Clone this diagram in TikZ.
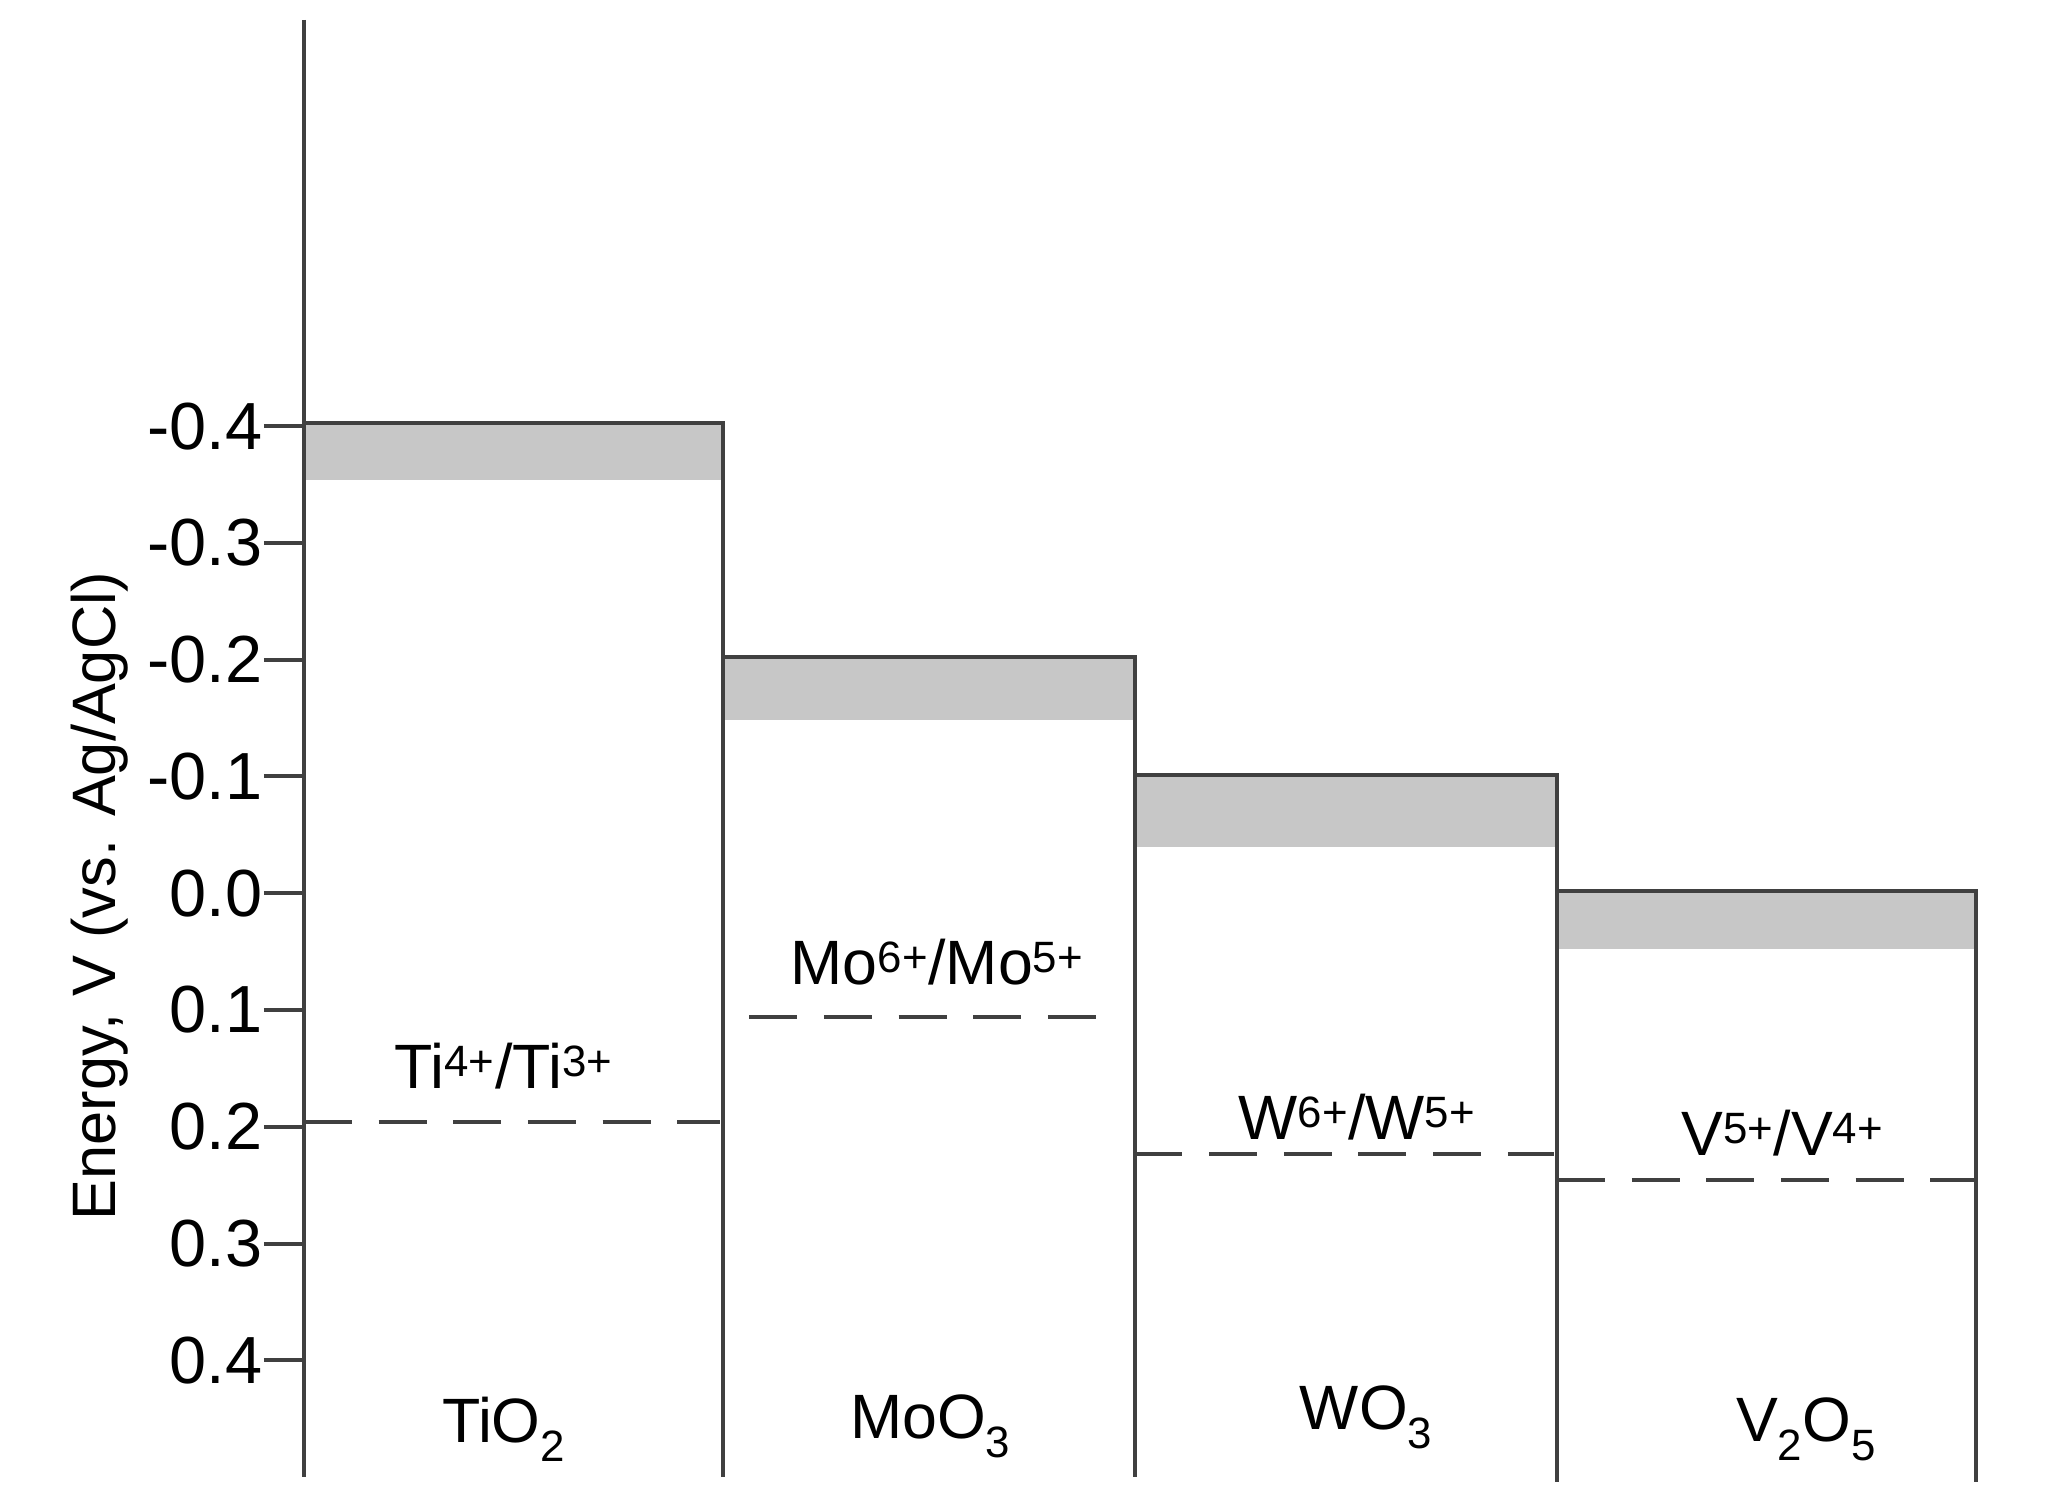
\documentclass[tikz,border=0pt]{standalone}
\usepackage{fontspec}
\setmainfont{Liberation Sans}
\begin{document}
\begin{tikzpicture}[x=1pt,y=-1pt,
  ln/.style={draw=black!75,line width=3pt},
  hb/.style={fill=black!22},
  dsh/.style={draw=black!75,line width=3pt,dash pattern=on 36pt off 20pt},
  tk/.style={anchor=east,font=\fontsize{50}{50}\selectfont},
  lb/.style={font=\fontsize{47}{47}\selectfont}]
\useasboundingbox (0,0) rectangle (1549,1121);
\fill[white] (0,0) rectangle (1549,1121);
% hatched bands
\fill[hb] (228,317) rectangle (542,360);
\fill[hb] (542,493) rectangle (851,540);
\fill[hb] (851,581) rectangle (1168,635);
\fill[hb] (1168,668) rectangle (1482,712);
% axis
\draw[ln] (228,15) -- (228,1108);
\foreach \v/\t in {-0.4/{-0.4},-0.3/{-0.3},-0.2/{-0.2},-0.1/{-0.1},0/{0.0},0.1/{0.1},0.2/{0.2},0.3/{0.3},0.4/{0.4}}{
  \pgfmathsetmacro\yy{670+\v*876}
  \draw[ln] (198,\yy) -- (228,\yy);
  \node[tk,inner sep=1pt] (t\t) at (198,\yy) {\t};
}
\node[rotate=90,font=\fontsize{46}{46}\selectfont] (ylab) at (75,672) {Energy, V (vs. Ag/AgCl)};
% boxes
\draw[ln] (228,317) -- (542,317) -- (542,1108);
\draw[ln] (542,493) -- (851,493) -- (851,1108);
\draw[ln] (851,581) -- (1168,581) -- (1168,1112);
\draw[ln] (1168,668) -- (1482,668) -- (1482,1112);
% dashed levels
\draw[dsh] (228,842) -- (540,842);
\draw[dsh] (562,763) -- (832,763);
\draw[dsh] (851,866) -- (1166,866);
\draw[dsh] (1168,885) -- (1482,885);
% labels
\node[lb] (ti) at (378,800) {Ti\textsuperscript{4+}/Ti\textsuperscript{3+}};
\node[lb] (mo) at (703,722) {Mo\textsuperscript{6+}/Mo\textsuperscript{5+}};
\node[lb] (w) at (1018,838) {W\textsuperscript{6+}/W\textsuperscript{5+}};
\node[lb] (v) at (1337,850) {V\textsuperscript{5+}/V\textsuperscript{4+}};
\node[lb] (a) at (378,1072) {TiO$_{\mathrm{2}}$};
\node[lb] (b) at (698,1070) {MoO$_{\mathrm{3}}$};
\node[lb] (c) at (1025,1063) {WO$_{\mathrm{3}}$};
\node[lb] (d) at (1355,1072) {V$_{\mathrm{2}}$O$_{\mathrm{5}}$};
\end{tikzpicture}
\end{document}
